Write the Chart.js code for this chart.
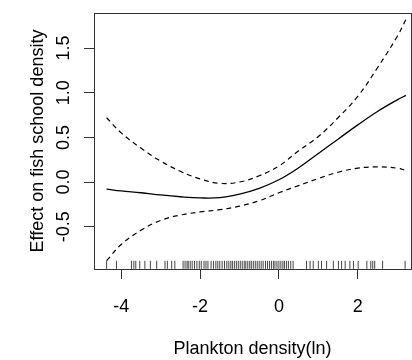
<!DOCTYPE html>
<html>
<head>
<meta charset="utf-8">
<script src="https://cdn.jsdelivr.net/npm/chart.js@4.4.1/dist/chart.umd.min.js"></script>
<style>
  html, body { margin: 0; padding: 0; background: #fff; }
  #chartContainer { position: relative; width: 412px; height: 360px; }
</style>
</head>
<body>
<div id="chartContainer"><canvas id="gamChart"></canvas></div>
<script>
// x positions read along the smooth
const xs = [-4.37, -4.0, -3.5, -3.0, -2.5, -2.0, -1.5, -1.0, -0.5, 0, 0.5, 1.0, 1.5, 2.0, 2.5, 3.0, 3.22];
const fitValues   = [-0.08, -0.10, -0.12, -0.145, -0.165, -0.178, -0.175, -0.135, -0.07, 0.025, 0.16, 0.32, 0.48, 0.64, 0.79, 0.92, 0.97];
const upperValues = [0.72, 0.55, 0.38, 0.235, 0.12, 0.035, -0.015, 0.0, 0.07, 0.18, 0.35, 0.51, 0.72, 0.96, 1.28, 1.63, 1.82];
const lowerValues = [-0.88, -0.70, -0.54, -0.43, -0.37, -0.335, -0.31, -0.27, -0.21, -0.12, -0.04, 0.04, 0.11, 0.155, 0.17, 0.155, 0.13];

// rug (observed plankton densities)
const rugValues = [
  -4.37, -4.12, -3.74, -3.68, -3.63, -3.53, -3.40, -3.26, -3.10, -2.89, -2.83, -2.72, -2.64,
  -2.43, -2.38, -2.33, -2.30, -2.25, -2.20, -2.14, -2.08, -2.02, -1.97, -1.90, -1.85, -1.80,
  -1.72, -1.66, -1.60, -1.55, -1.50, -1.44, -1.38, -1.32, -1.27, -1.22, -1.18, -1.13, -1.08,
  -1.03, -0.98, -0.93, -0.88, -0.84, -0.79, -0.74, -0.70, -0.65, -0.60, -0.55, -0.50, -0.45,
  -0.40, -0.34, -0.29, -0.24, -0.19, -0.14, -0.10, -0.05, 0.0, 0.05, 0.10, 0.14, 0.19, 0.24,
  0.30, 0.36, 0.70, 0.79, 0.87, 1.0, 1.08, 1.21, 1.38, 1.51, 1.59, 1.68, 1.80, 1.89, 2.01,
  2.23, 2.33, 2.38, 2.43, 2.63, 3.20
];
const rugLevel = -0.927;

const xTicks = [-4, -2, 0, 2];
const yTicks = [-0.5, 0.0, 0.5, 1.0, 1.5];
const xTitle = 'Plankton density(ln)';
const yTitle = 'Effect on fish school density';

const toPoints = (vals) => xs.map((x, i) => ({ x: x, y: vals[i] }));

// box round the plot region (R bty="o")
const boxPlugin = {
  id: 'box',
  afterDraw(chart) {
    const a = chart.chartArea;
    const c = chart.ctx;
    c.save();
    c.strokeStyle = '#333';
    c.lineWidth = 1;
    c.strokeRect(a.left + 0.5, a.top + 0.5, a.right - a.left, a.bottom - a.top);
    c.restore();
  }
};

const font = { family: '"Liberation Sans", Arial, sans-serif', size: 18 };

const ctx = document.getElementById('gamChart').getContext('2d');
const gamChart = new Chart(ctx, {
  type: 'scatter',
  data: {
    datasets: [
      {
        label: 'fit',
        data: toPoints(fitValues),
        showLine: true,
        borderColor: '#000',
        borderWidth: 1.3,
        pointRadius: 0,
        tension: 0.4
      },
      {
        label: 'upper',
        data: toPoints(upperValues),
        showLine: true,
        borderColor: '#000',
        borderWidth: 1.2,
        borderDash: [5, 4],
        pointRadius: 0,
        tension: 0.4
      },
      {
        label: 'lower',
        data: toPoints(lowerValues),
        showLine: true,
        borderColor: '#000',
        borderWidth: 1.2,
        borderDash: [5, 4],
        pointRadius: 0,
        tension: 0.4
      },
      {
        label: 'rug',
        data: rugValues.map(v => ({ x: v, y: rugLevel })),
        showLine: false,
        pointStyle: 'line',
        rotation: 90,
        pointRadius: 4,
        borderColor: '#444',
        borderWidth: 1
      }
    ]
  },
  options: {
    responsive: true,
    maintainAspectRatio: false,
    animation: false,
    layout: { autoPadding: false, padding: { top: 13, right: 1, left: 0, bottom: 0 } },
    plugins: {
      legend: { display: false },
      tooltip: { enabled: false }
    },
    scales: {
      x: {
        type: 'linear',
        min: -4.69,
        max: 3.35,
        afterBuildTicks: s => { s.ticks = xTicks.map(v => ({ value: v })); },
        afterFit: s => { s.height = 91; s.paddingLeft = 0; s.paddingRight = 0; },
        grid: { drawOnChartArea: false, drawTicks: true, tickLength: 10, color: '#333' },
        border: { display: false },
        ticks: { color: '#000', font: font, padding: 17, maxRotation: 0 },
        title: { display: true, text: xTitle, color: '#000', font: font, padding: { top: 0, bottom: 0 } }
      },
      y: {
        type: 'linear',
        min: -0.974,
        max: 1.893,
        afterBuildTicks: s => { s.ticks = yTicks.map(v => ({ value: v })); },
        afterFit: s => { s.width = 94; s.paddingTop = 0; s.paddingBottom = 0; },
        grid: { drawOnChartArea: false, drawTicks: true, tickLength: 10, color: '#333' },
        border: { display: false },
        ticks: {
          color: '#000',
          font: font,
          padding: 4,
          minRotation: 90,
          maxRotation: 90,
          crossAlign: 'center',
          callback: v => v.toFixed(1)
        },
        title: { display: true, text: yTitle, color: '#000', font: font, padding: { top: 27, bottom: 0 } }
      }
    }
  },
  plugins: [boxPlugin]
});
</script>
</body>
</html>
